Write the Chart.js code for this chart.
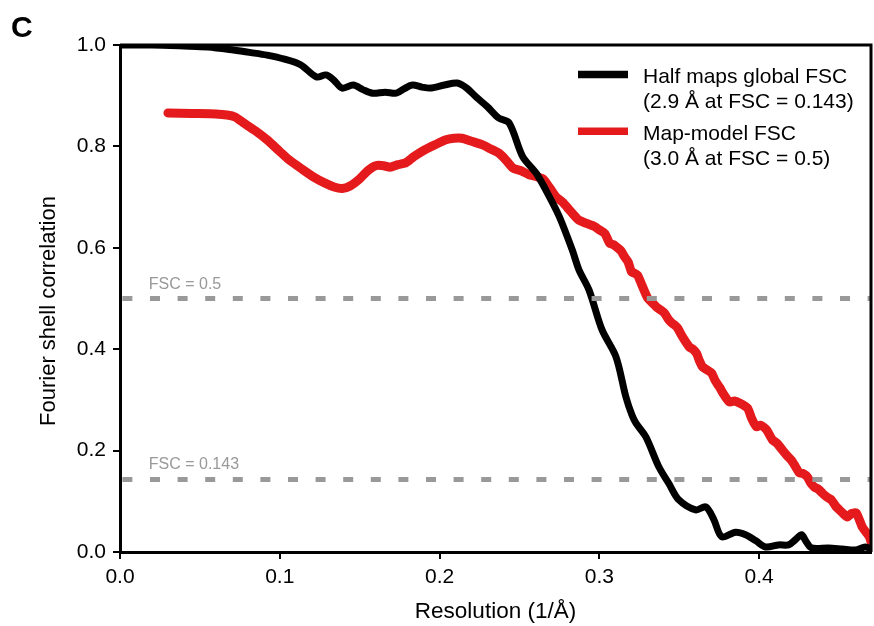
<!DOCTYPE html>
<html>
<head>
<meta charset="utf-8">
<script src="https://cdn.jsdelivr.net/npm/chart.js@4.4.1/dist/chart.umd.min.js"></script>
<style>
  html, body { margin: 0; padding: 0; background: #fff; }
  canvas { display: block; }
</style>
</head>
<body>
<canvas id="fscChart" width="874" height="626"></canvas>
<script>
// resolution (1/Å) and FSC values
const halfX = [0, 0.02, 0.04, 0.055, 0.071, 0.082, 0.092, 0.103, 0.113, 0.123, 0.129, 0.134, 0.139, 0.146, 0.152, 0.158,
  0.166, 0.173, 0.178, 0.183, 0.189, 0.194, 0.203, 0.211, 0.217, 0.223, 0.230, 0.237, 0.2436, 0.252, 0.2605, 0.268,
  0.275, 0.283, 0.2873, 0.2935, 0.3017, 0.3104, 0.3166, 0.3204, 0.3229, 0.3291, 0.3372, 0.3435, 0.3497, 0.3603,
  0.3666, 0.3715, 0.3766, 0.3853, 0.3915, 0.398, 0.404, 0.4122, 0.4184, 0.423, 0.4265, 0.4295, 0.4328, 0.4434,
  0.452, 0.4603, 0.4665, 0.47];
const halfY = [1.0, 1.0, 0.998, 0.996, 0.99, 0.985, 0.98, 0.972, 0.961, 0.937, 0.941, 0.93, 0.915, 0.921, 0.912, 0.905,
  0.907, 0.905, 0.914, 0.921, 0.917, 0.915, 0.921, 0.925, 0.915, 0.897, 0.878, 0.856, 0.846, 0.78, 0.747, 0.705,
  0.661, 0.596, 0.556, 0.517, 0.438, 0.385, 0.306, 0.27, 0.254, 0.227, 0.168, 0.135, 0.103, 0.083, 0.089, 0.065,
  0.03, 0.039, 0.034, 0.022, 0.01, 0.014, 0.014, 0.025, 0.034, 0.02, 0.008, 0.008, 0.006, 0.004, 0.01, 0.006];

const mapX = [0.03, 0.045, 0.06, 0.067, 0.072, 0.077, 0.085, 0.092, 0.1, 0.106, 0.114, 0.121, 0.128, 0.134, 0.139,
  0.144, 0.15, 0.155, 0.16, 0.165, 0.169, 0.174, 0.179, 0.184, 0.19, 0.197, 0.204, 0.209, 0.214, 0.22, 0.227, 0.232,
  0.237, 0.241, 0.246, 0.251, 0.256, 0.261, 0.265, 0.269, 0.273, 0.277, 0.282, 0.287, 0.292, 0.297,
  0.3002, 0.3035, 0.3064, 0.309, 0.3114, 0.3135, 0.3158, 0.318, 0.3202, 0.322, 0.3239, 0.3255, 0.3271, 0.3302,
  0.333, 0.3358, 0.338, 0.3408, 0.343, 0.3452, 0.347, 0.3489, 0.351, 0.3533, 0.3564, 0.3585, 0.3608, 0.3625,
  0.3646, 0.367, 0.3702, 0.3725, 0.3752, 0.378, 0.3814, 0.3845, 0.3877, 0.3927, 0.3955, 0.3983, 0.401, 0.4046,
  0.4083, 0.411, 0.4146, 0.4175, 0.4202, 0.4228, 0.4252, 0.4275, 0.4302, 0.4325, 0.4346, 0.437, 0.4396, 0.4425,
  0.4452, 0.448, 0.4502, 0.4525, 0.4552, 0.458, 0.4608, 0.4646, 0.469, 0.4705];
const mapY = [0.866, 0.865, 0.864, 0.862, 0.858, 0.847, 0.83, 0.813, 0.79, 0.773, 0.755, 0.74, 0.728, 0.72, 0.717,
  0.722, 0.736, 0.752, 0.762, 0.762, 0.759, 0.764, 0.768, 0.78, 0.792, 0.803, 0.813, 0.816, 0.816, 0.81, 0.803, 0.795,
  0.787, 0.775, 0.757, 0.752, 0.744, 0.74, 0.735, 0.718, 0.7, 0.69, 0.672, 0.655, 0.648, 0.642,
  0.635, 0.628, 0.609, 0.606, 0.6, 0.594, 0.582, 0.572, 0.552, 0.55, 0.546, 0.535, 0.523, 0.501,
  0.492, 0.483, 0.478, 0.471, 0.46, 0.452, 0.448, 0.442, 0.43, 0.418, 0.404, 0.4, 0.392, 0.378,
  0.365, 0.36, 0.353, 0.338, 0.325, 0.31, 0.296, 0.298, 0.294, 0.284, 0.262, 0.247, 0.25, 0.241,
  0.221, 0.215, 0.201, 0.19, 0.181, 0.168, 0.156, 0.155, 0.148, 0.135, 0.128, 0.124, 0.116, 0.108,
  0.103, 0.09, 0.083, 0.076, 0.069, 0.076, 0.077, 0.049, 0.03, 0.015];

const thresholds = [0.5, 0.143];
const thresholdLabels = ['FSC = 0.5', 'FSC = 0.143'];
const thresholdSpan = [0.0015, 0.47];

const xTicks = [0, 0.1, 0.2, 0.3, 0.4];
const yTicks = [0, 0.2, 0.4, 0.6, 0.8, 1.0];

const legendText = [
  ['Half maps global FSC', '(2.9 Å at FSC = 0.143)'],
  ['Map-model FSC', '(3.0 Å at FSC = 0.5)']
];

const FONT = "'Liberation Sans', Arial, sans-serif";
const pts = (xs, ys) => xs.map((x, i) => ({ x: x, y: ys[i] }));

const datasets = thresholds.map(t => ({
  data: pts(thresholdSpan, [t, t]),
  borderColor: '#999999',
  borderWidth: 5,
  borderDash: [10, 17.6],
  borderCapStyle: 'butt',
  pointRadius: 0,
  order: 0
}));
datasets.push({
  label: legendText[0][0],
  data: pts(halfX, halfY),
  borderColor: '#000000',
  borderWidth: 7,
  tension: 0.3,
  pointRadius: 0,
  borderJoinStyle: 'round',
  borderCapStyle: 'round',
  order: 1
});
datasets.push({
  label: legendText[1][0],
  data: pts(mapX, mapY),
  borderColor: '#e41a1c',
  borderWidth: 9,
  tension: 0.2,
  pointRadius: 0,
  borderJoinStyle: 'round',
  borderCapStyle: 'round',
  order: 2
});

const extras = {
  id: 'extras',
  afterDatasetsDraw(chart) {
    const { ctx, chartArea: a, scales: { x, y } } = chart;
    ctx.save();
    // box top/right
    ctx.strokeStyle = '#000';
    ctx.lineWidth = 3;
    ctx.beginPath();
    ctx.moveTo(a.left, a.top);
    ctx.lineTo(a.right, a.top);
    ctx.lineTo(a.right, a.bottom);
    ctx.stroke();

    // threshold labels
    ctx.fillStyle = '#999999';
    ctx.font = '16px ' + FONT;
    ctx.textBaseline = 'alphabetic';
    ctx.textAlign = 'left';
    thresholds.forEach((t, i) => {
      ctx.fillText(thresholdLabels[i], x.getPixelForValue(0.018), y.getPixelForValue(t) - 10);
    });

    // legend
    const colors = ['#000000', '#e41a1c'];
    const rows = [[74.5, 82.7, 107.7], [131.3, 140, 165]];
    ctx.font = '21px ' + FONT;
    ctx.fillStyle = '#000';
    legendText.forEach((lines, i) => {
      ctx.strokeStyle = colors[i];
      ctx.lineWidth = 7.5;
      ctx.lineCap = 'butt';
      ctx.beginPath();
      ctx.moveTo(578, rows[i][0]);
      ctx.lineTo(628, rows[i][0]);
      ctx.stroke();
      ctx.fillText(lines[0], 643, rows[i][1]);
      ctx.fillText(lines[1], 643, rows[i][2]);
    });

    // y axis title (sits a little below the axis centre in the figure)
    ctx.save();
    ctx.translate(55, 311);
    ctx.rotate(-Math.PI / 2);
    ctx.textAlign = 'center';
    ctx.font = '22px ' + FONT;
    ctx.fillText('Fourier shell correlation', 0, 0);
    ctx.restore();

    // panel letter
    ctx.font = 'bold 30px ' + FONT;
    ctx.fillText('C', 11, 37);
    ctx.restore();
  }
};

new Chart(document.getElementById('fscChart'), {
  type: 'line',
  data: { datasets: datasets },
  options: {
    responsive: false,
    animation: false,
    devicePixelRatio: 1,
    layout: { padding: { top: 45, right: 3, left: 0, bottom: 0 } },
    plugins: { legend: { display: false }, tooltip: { enabled: false } },
    scales: {
      x: {
        type: 'linear',
        min: 0,
        max: 0.47,
        afterFit: s => { s.height = 74; },
        afterBuildTicks: s => { s.ticks = xTicks.map(v => ({ value: v })); },
        ticks: {
          color: '#000',
          font: { family: FONT, size: 21 },
          padding: 6,
          maxRotation: 0,
          callback: v => v.toFixed(1)
        },
        grid: { drawOnChartArea: false, drawTicks: true, tickLength: 7, color: '#000', lineWidth: 2 },
        border: { color: '#000', width: 3 },
        title: { display: true, text: 'Resolution (1/Å)', color: '#000', font: { family: FONT, size: 22.5 }, padding: { bottom: 1 } }
      },
      y: {
        min: 0,
        max: 1,
        afterFit: s => { s.width = 120; },
        afterBuildTicks: s => { s.ticks = yTicks.map(v => ({ value: v })); },
        ticks: {
          color: '#000',
          font: { family: FONT, size: 21 },
          padding: 7,
          callback: v => v.toFixed(1)
        },
        grid: { drawOnChartArea: false, drawTicks: true, tickLength: 7, color: '#000', lineWidth: 2 },
        border: { color: '#000', width: 3 }
      }
    }
  },
  plugins: [extras]
});
</script>
</body>
</html>
